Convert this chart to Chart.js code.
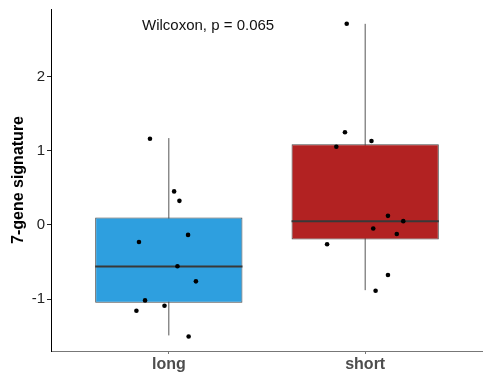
<!DOCTYPE html>
<html>
<head>
<meta charset="utf-8">
<script src="https://cdn.jsdelivr.net/npm/chart.js@4/dist/chart.umd.min.js"></script>
<style>
  html, body { margin: 0; padding: 0; background: #fff; }
  #wrap { width: 483px; height: 376px; }
</style>
</head>
<body>
<div id="wrap"><canvas id="c" width="483" height="376"></canvas></div>
<script>
// ---- data ----
const categories = ['long', 'short'];
const yTicks = [-1, 0, 1, 2];

// box statistics per category
const q1 = [-1.05, -0.197];
const median = [-0.56, 0.05];
const q3 = [0.10, 1.087];
const whiskerLow = [-1.49, -0.88];
const whiskerHigh = [1.17, 2.71];

// jittered points (x in category units, y values)
const longX = [0.904, 1.027, 1.054, 1.098, 0.848, 1.044, 1.138, 0.879, 0.978, 0.835, 1.101];
const longY = [1.162, 0.451, 0.324, -0.135, -0.230, -0.558, -0.761, -1.018, -1.090, -1.157, -1.504];
const shortX = [1.906, 1.897, 2.032, 1.853, 2.116, 2.194, 2.041, 2.161, 1.806, 2.116, 2.053];
const shortY = [2.712, 1.249, 1.131, 1.054, 0.122, 0.050, -0.049, -0.122, -0.261, -0.676, -0.887];

const annotationText = 'Wilcoxon, p = 0.065';
const annotationPos = { x: 1.2, y: 2.685 };

// ---- styling ----
const boxColors = ['#2E9FDF', '#B22222'];
const boxHalf = 0.375;

const datasets = [];
categories.forEach((c, i) => {
  const pos = i + 1;
  datasets.push({
    type: 'scatter', showLine: true, order: 4,
    data: [{ x: pos, y: whiskerLow[i] }, { x: pos, y: whiskerHigh[i] }],
    borderColor: '#555', borderWidth: 1, pointRadius: 0
  });
  datasets.push({
    type: 'scatter', showLine: true, order: 2,
    data: [{ x: pos - boxHalf, y: median[i] }, { x: pos + boxHalf, y: median[i] }],
    borderColor: '#383838', borderWidth: 2, pointRadius: 0
  });
});
datasets.push({
  type: 'bar', order: 3,
  data: categories.map((c, i) => ({ x: i + 1, y: [q1[i], q3[i]] })),
  backgroundColor: boxColors,
  borderColor: '#474747', borderWidth: 1, borderSkipped: false,
  barPercentage: 0.75, categoryPercentage: 1.0
});
datasets.push({
  type: 'scatter', order: 1,
  data: longX.map((x, i) => ({ x, y: longY[i] })).concat(shortX.map((x, i) => ({ x, y: shortY[i] }))),
  backgroundColor: '#000', borderWidth: 0, pointRadius: 2.3
});

const annotationPlugin = {
  id: 'annot',
  afterDatasetsDraw(chart) {
    const { ctx, scales } = chart;
    ctx.save();
    ctx.font = '15px "Liberation Sans", Arial, sans-serif';
    ctx.fillStyle = '#111';
    ctx.textAlign = 'center';
    ctx.textBaseline = 'middle';
    ctx.fillText(annotationText, scales.x.getPixelForValue(annotationPos.x), scales.y.getPixelForValue(annotationPos.y));
    ctx.restore();
  }
};

new Chart(document.getElementById('c'), {
  type: 'bar',
  data: { datasets },
  plugins: [annotationPlugin],
  options: {
    responsive: false,
    animation: false,
    layout: { autoPadding: false, padding: { top: 9, right: 0, left: 0, bottom: 0 } },
    plugins: { legend: { display: false }, tooltip: { enabled: false } },
    scales: {
      x: {
        type: 'linear', min: 0.4, max: 2.6, offset: false,
        afterBuildTicks(s) { s.ticks = categories.map((c, i) => ({ value: i + 1 })); },
        afterFit(s) { s.height = 25; s.paddingLeft = 0; s.paddingRight = 0; },
        ticks: {
          callback: (v) => categories[v - 1],
          color: '#4D4D4D', padding: 1,
          font: { family: '"Liberation Sans", Arial, sans-serif', size: 16, weight: 'bold' },
          maxRotation: 0, autoSkip: false
        },
        grid: { offset: false, drawOnChartArea: false, drawTicks: true, tickLength: 3, color: '#777' },
        border: { display: true, color: '#777', width: 1 }
      },
      y: {
        type: 'linear', min: -1.70, max: 2.91,
        afterBuildTicks(s) { s.ticks = yTicks.map(v => ({ value: v })); },
        afterFit(s) { s.width = 51; s.paddingTop = 0; s.paddingBottom = 0; },
        ticks: {
          color: '#222', padding: 2,
          font: { family: '"Liberation Sans", Arial, sans-serif', size: 15 }
        },
        grid: { drawOnChartArea: false, drawTicks: true, tickLength: 4, color: '#222' },
        border: { display: true, color: '#000', width: 1 },
        title: {
          display: true, text: '7-gene signature', color: '#000',
          font: { family: '"Liberation Sans", Arial, sans-serif', size: 16, weight: 'bold', lineHeight: 1.2 },
          padding: { top: 9, bottom: 0 }
        }
      }
    }
  }
});
</script>
</body>
</html>
